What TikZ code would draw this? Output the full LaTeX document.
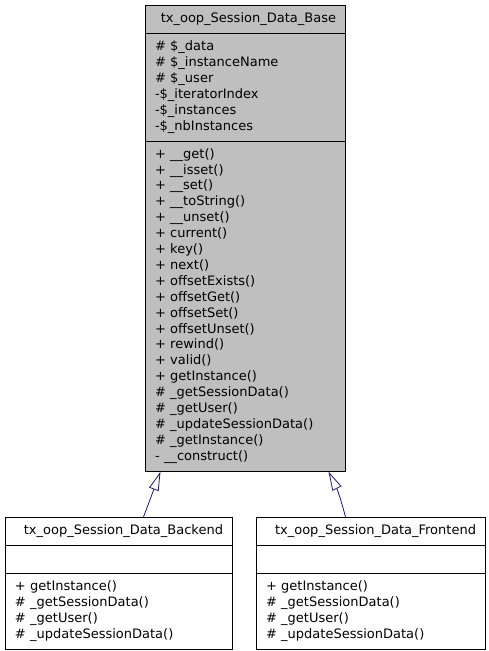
\documentclass[tikz,border=0pt]{standalone}
\usepackage{fontspec}
\setmainfont{DejaVu Sans}
\usetikzlibrary{shapes.multipart,arrows.meta}
\definecolor{classgray}{RGB}{191,191,191}
\definecolor{edgecolor}{RGB}{25,25,112}

\begin{document}
\begin{tikzpicture}[x=1pt,y=-1pt,
    umlclass/.style={draw, rectangle split, rectangle split parts=3,
      anchor=north west, inner xsep=9.5pt, inner ysep=5.55pt, line width=1pt,
      font=\fontsize{13}{15.9}\selectfont},
    inherit/.style={draw=edgecolor, line width=0.8pt,
      -{Triangle[open, length=19pt, width=10pt]}}]
\useasboundingbox (0,0) rectangle (488,651);

% Base class
\node[umlclass, fill=classgray, text width=181pt] (base) at (145,5)
  {\hspace*{\fill}\strut tx\_oop\_Session\_Data\_Base\hspace*{\fill}
   \nodepart{two}\strut\# \$\_data\\
   \# \$\_instanceName\\
   \# \$\_user\\
   -\$\_iteratorIndex\\
   -\$\_instances\\
   -\$\_nbInstances\strut
   \nodepart{three}\strut+ \_\_get()\\
   + \_\_isset()\\
   + \_\_set()\\
   + \_\_toString()\\
   + \_\_unset()\\
   + current()\\
   + key()\\
   + next()\\
   + offsetExists()\\
   + offsetGet()\\
   + offsetSet()\\
   + offsetUnset()\\
   + rewind()\\
   + valid()\\
   + getInstance()\\
   \# \_getSessionData()\\
   \# \_getUser()\\
   \# \_updateSessionData()\\
   \# \_getInstance()\\
   - \_\_construct()\strut};

% Derived classes
\node[umlclass, fill=white, text width=208pt] (backend) at (5,517)
  {\hspace*{\fill}\strut tx\_oop\_Session\_Data\_Backend\hspace*{\fill}
   \nodepart{two}\strut
   \nodepart{three}\strut+ getInstance()\\
   \# \_getSessionData()\\
   \# \_getUser()\\
   \# \_updateSessionData()\strut};
\node[umlclass, fill=white, text width=210pt] (frontend) at (256,517)
  {\hspace*{\fill}\strut tx\_oop\_Session\_Data\_Frontend\hspace*{\fill}
   \nodepart{two}\strut
   \nodepart{three}\strut+ getInstance()\\
   \# \_getSessionData()\\
   \# \_getUser()\\
   \# \_updateSessionData()\strut};

% Inheritance
\draw[inherit] ([xshift=24.5pt]backend.north) -- ([xshift=-85pt]base.south);
\draw[inherit] ([xshift=-25.5pt]frontend.north) to[bend right=6] ([xshift=83pt]base.south);
\end{tikzpicture}
\end{document}
